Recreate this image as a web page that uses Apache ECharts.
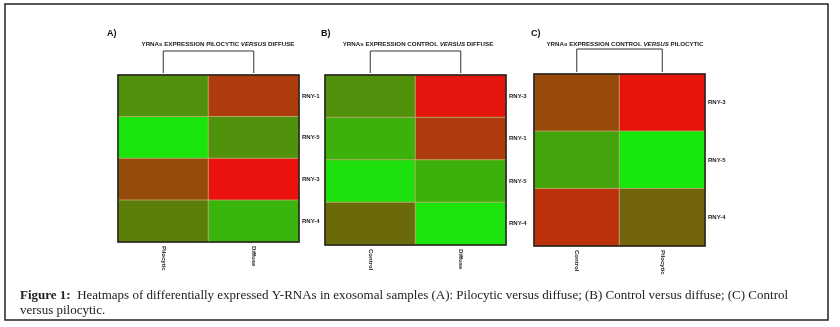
<!DOCTYPE html>
<html>
<head>
<meta charset="utf-8">
<script src="https://cdn.jsdelivr.net/npm/echarts@6/dist/echarts.min.js"></script>
<style>
  html, body { margin: 0; padding: 0; background: #fff; }
  #main { width: 840px; height: 327px; }
</style>
</head>
<body>
<div id="main"></div>
<script>
// A) pilocytic versus diffuse
var samplesA = ['Pilocytic', 'Diffuse']
var genesA = ['RNY-1', 'RNY-5', 'RNY-3', 'RNY-4']
var valuesA = [
	[0.35, 0.75],
	[0.04, 0.35],
	[0.66, 0.97],
	[0.42, 0.22],
]

// B) control versus diffuse
var samplesB = ['Control', 'Diffuse']
var genesB = ['RNY-3', 'RNY-1', 'RNY-5', 'RNY-4']
var valuesB = [
	[0.36, 0.95],
	[0.24, 0.75],
	[0.06, 0.24],
	[0.5, 0.05],
]

// C) control versus pilocytic
var samplesC = ['Control', 'Pilocytic']
var genesC = ['RNY-3', 'RNY-5', 'RNY-4']
var valuesC = [
	[0.67, 0.96],
	[0.28, 0.03],
	[0.8, 0.53],
]

var panels = [
	{ letter: 'A)', a: 'PILOCYTIC', b: 'DIFFUSE', samples: samplesA, genes: genesA, values: valuesA,
		grid: { left: 118, top: 75, width: 181, height: 167 }, titleX: 213, letterX: 102 },
	{ letter: 'B)', a: 'CONTROL', b: 'DIFFUSE', samples: samplesB, genes: genesB, values: valuesB,
		grid: { left: 325, top: 75, width: 181, height: 170 }, titleX: 413, letterX: 316 },
	{ letter: 'C)', a: 'CONTROL', b: 'PILOCYTIC', samples: samplesC, genes: genesC, values: valuesC,
		grid: { left: 534, top: 74, width: 171, height: 172 }, titleX: 620, letterX: 526 },
]

var chart = echarts.init(document.getElementById('main'))
var labelFont = '"Liberation Sans Narrow", "Liberation Sans", sans-serif'

var titles = []
var grids = []
var xAxes = []
var yAxes = []
var series = []

panels.forEach(function (p, k) {
	titles.push({
		text: p.letter,
		left: p.letterX,
		top: 24,
		textStyle: { fontSize: 9, fontWeight: 'bold', color: '#111', fontFamily: labelFont },
	})
	titles.push({
		text: '{n|YRNAs EXPRESSION ' + p.a + ' }{i|VERSUS}{n| ' + p.b + '}',
		left: p.titleX,
		top: 36,
		textAlign: 'center',
		textStyle: {
			rich: {
				n: { fontSize: 6.2, fontWeight: 'bold', color: '#1a1a1a', fontFamily: labelFont },
				i: { fontSize: 6.2, fontWeight: 'bold', fontStyle: 'italic', color: '#1a1a1a', fontFamily: labelFont },
			},
		},
	})
	grids.push({
		left: p.grid.left,
		top: p.grid.top,
		width: p.grid.width,
		height: p.grid.height,
		show: true,
		z: 5,
		borderColor: '#1e1e1e',
		borderWidth: 1.5,
		backgroundColor: 'transparent',
	})
	xAxes.push({
		type: 'category',
		gridIndex: k,
		data: p.samples,
		position: 'bottom',
		axisLine: { show: false },
		axisTick: { show: false },
		splitLine: { show: false },
		axisLabel: { rotate: -90, margin: 4, fontSize: 6, fontWeight: 'bold', color: '#1a1a1a', fontFamily: labelFont },
	})
	yAxes.push({
		type: 'category',
		gridIndex: k,
		data: p.genes,
		position: 'right',
		inverse: true,
		axisLine: { show: false },
		axisTick: { show: false },
		splitLine: { show: false },
		axisLabel: { margin: 3, fontSize: 6, fontWeight: 'bold', color: '#1a1a1a', fontFamily: labelFont },
	})
	var data = []
	p.values.forEach(function (row, i) {
		row.forEach(function (v, j) {
			data.push([j, i, v])
		})
	})
	series.push({
		type: 'heatmap',
		xAxisIndex: k,
		yAxisIndex: k,
		data: data,
		itemStyle: { borderColor: 'rgba(190,170,110,0.85)', borderWidth: 1 },
		emphasis: { disabled: true },
	})
})

titles.push({
	text: '{b|Figure 1:}  Heatmaps of differentially expressed Y-RNAs in exosomal samples (A): Pilocytic versus diffuse; (B) Control versus diffuse; (C) Control\nversus pilocytic.',
	left: 20,
	top: 288,
	padding: 0,
	textStyle: {
		fontSize: 13,
		fontWeight: 'normal',
		fontFamily: '"Liberation Serif", serif',
		color: '#222',
		lineHeight: 15,
		rich: {
			b: { fontSize: 13, fontWeight: 'bold', fontFamily: '"Liberation Serif", serif', color: '#222', lineHeight: 15 },
		},
	},
})

var option = {
	backgroundColor: '#fff',
	animation: false,
	title: titles,
	grid: grids,
	xAxis: xAxes,
	yAxis: yAxes,
	visualMap: {
		show: false,
		min: 0,
		max: 1,
		seriesIndex: [0, 1, 2],
		inRange: { color: ['#12f00c', '#6a6a0a', '#f20c0c'] },
	},
	series: series,
}

chart.setOption(option)

// dendrogram brackets above each heatmap + outer frame
var graphics = [
	{
		type: 'rect',
		shape: { x: 5, y: 4, width: 823, height: 316 },
		style: { fill: 'none', stroke: '#222', lineWidth: 1.5 },
		silent: true,
	},
]
panels.forEach(function (p, k) {
	var x0 = chart.convertToPixel({ xAxisIndex: k }, p.samples[0])
	var x1 = chart.convertToPixel({ xAxisIndex: k }, p.samples[1])
	var bottom = p.grid.top - 2
	var top = k === 2 ? 49 : 51
	graphics.push({
		type: 'polyline',
		shape: { points: [[x0, bottom], [x0, top], [x1, top], [x1, bottom]] },
		style: { fill: 'none', stroke: '#333', lineWidth: 1 },
		silent: true,
	})
})
chart.setOption({ graphic: graphics })
</script>
</body>
</html>
